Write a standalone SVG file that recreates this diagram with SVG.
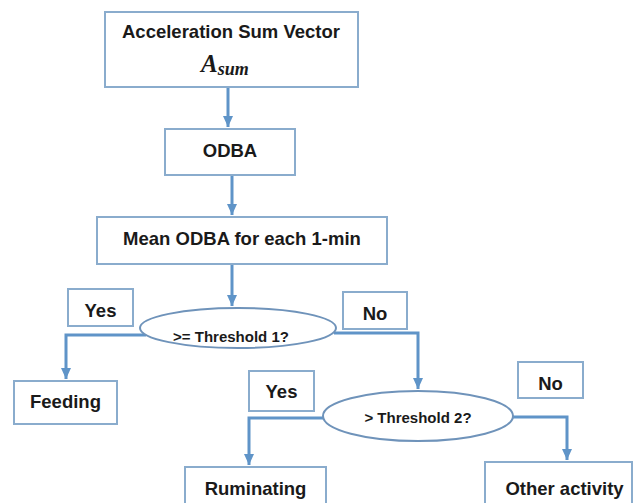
<svg xmlns="http://www.w3.org/2000/svg" width="634" height="503" viewBox="0 0 634 503">
<style>
.box{fill:#fff;stroke:#8aaccd;stroke-width:2}
.ell{fill:#fff;stroke:#6f93ba;stroke-width:2}
.t{font-family:"Liberation Sans",Arial,sans-serif;font-weight:bold;font-size:18.5px;fill:#1a1a1a;text-anchor:middle}
.s{font-size:15px}
.con{fill:none;stroke:#5f94c8;stroke-width:3}
.m{font-family:"Liberation Serif","Times New Roman",serif;font-style:italic;font-weight:bold;fill:#1a1a1a}
</style>
<defs>
<marker id="ah" markerUnits="userSpaceOnUse" markerWidth="12" markerHeight="10" refX="11" refY="5" orient="auto">
<path d="M0,0 L11,5 L0,10 Z" fill="#5f94c8"/>
</marker>
</defs>
<rect width="634" height="503" fill="#fff"/>
<g id="connectors">
<path class="con" d="M228,87 V127" marker-end="url(#ah)"/>
<path class="con" d="M232,175 V215" marker-end="url(#ah)"/>
<path class="con" d="M232,264 V306" marker-end="url(#ah)"/>
<path class="con" d="M146,335 H66 V379" marker-end="url(#ah)"/>
<path class="con" d="M334,333 H418 V389" marker-end="url(#ah)"/>
<path class="con" d="M326,418 H249 V465" marker-end="url(#ah)"/>
<path class="con" d="M511,417 H567 V460" marker-end="url(#ah)"/>
</g>
<g id="asum">
<rect class="box" x="105" y="12" width="253" height="75"/>
<text class="t" x="231" y="38">Acceleration Sum Vector</text>
<text class="m" x="201" y="72" font-size="25">A<tspan font-size="18" dy="3">sum</tspan></text>
</g>
<g id="odba">
<rect class="box" x="165" y="129" width="130" height="46"/>
<text class="t" x="230" y="157">ODBA</text>
</g>
<g id="mean">
<rect class="box" x="97" y="217" width="290" height="47"/>
<text class="t" x="242" y="245">Mean ODBA for each 1-min</text>
</g>
<g id="yes1">
<rect class="box" x="68" y="289" width="65" height="37"/>
<text class="t" x="100.5" y="317">Yes</text>
</g>
<g id="thr1">
<ellipse class="ell" cx="238" cy="328" rx="98" ry="20"/>
<text class="t s" x="231" y="342">&gt;= Threshold 1?</text>
</g>
<g id="no1">
<rect class="box" x="343" y="292" width="64" height="37"/>
<text class="t" x="375" y="320">No</text>
</g>
<g id="feeding">
<rect class="box" x="14" y="381" width="103" height="43"/>
<text class="t" x="65.5" y="408">Feeding</text>
</g>
<g id="yes2">
<rect class="box" x="249" y="371" width="65" height="40"/>
<text class="t" x="281.5" y="398">Yes</text>
</g>
<g id="thr2">
<ellipse class="ell" cx="418" cy="416" rx="95" ry="25"/>
<text class="t s" x="418" y="423">&gt; Threshold 2?</text>
</g>
<g id="no2">
<rect class="box" x="518" y="362" width="65" height="36"/>
<text class="t" x="550.5" y="390">No</text>
</g>
<g id="ruminating">
<rect class="box" x="185" y="467" width="141" height="50"/>
<text class="t" x="255.5" y="495">Ruminating</text>
</g>
<g id="other">
<rect class="box" x="485" y="462" width="147" height="55"/>
<text class="t" x="564.5" y="495">Other activity</text>
</g>
</svg>
